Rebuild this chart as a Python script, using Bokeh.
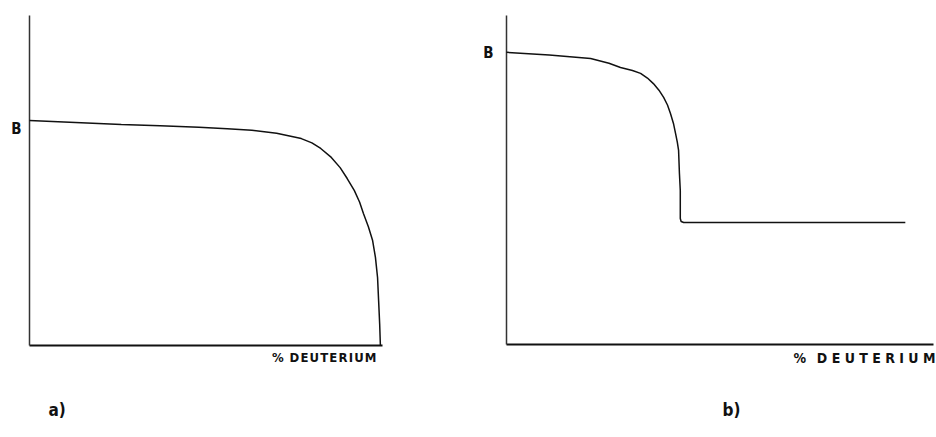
from bokeh.plotting import figure
from bokeh.layouts import row
from bokeh.models import Range1d, Label
from bokeh.embed import file_html
from bokeh.resources import INLINE

# Panel a): B versus % deuterium, gradual fall then sharp drop to zero
deut_a = [0, 13, 26, 37, 48, 56, 63, 70, 77, 80, 82.5, 85.5, 88, 90, 92, 93.5,
          94.6, 96, 97.2, 98, 98.6, 98.9, 99.2, 99.4]
b_a = [68.2, 67.6, 67.0, 66.6, 66.1, 65.7, 65.2, 64.3, 62.7, 61.4, 59.7, 57.0,
       53.9, 50.6, 47.0, 43.5, 40.0, 36.0, 31.8, 26.7, 20.6, 13.6, 6.5, 0]

# Panel b): B versus % deuterium, drop to a constant plateau
deut_b = [0, 10, 19.7, 24, 26.7, 29.5, 31.4, 33, 34.4, 35.7, 36.8, 37.7, 38.4,
          39.1, 39.6, 40.0, 40.3, 40.5, 40.7, 40.7, 40.9, 41.5, 93.4]
b_b = [88.8, 88.0, 86.9, 85.5, 84.2, 83.3, 82.4, 81.0, 79.3, 77.3, 75.1, 72.8,
       70.2, 67.2, 64.1, 61.5, 59.0, 52.0, 46.8, 38.3, 37.4, 37.1, 37.1]

# axis extent in data units (both quantities drawn on a 0-100 scale)
axis_min, axis_max = 0, 100

x_title_a = "%\u2002D\u200aE\u200aU\u200aT\u200aE\u200aR\u200aI\u200aU\u200aM"
x_title_b = "%\u2002 D E U T E R I U M"
y_title = "B"
panel_tags = ["a)", "b)"]

FONT = "'DejaVu Sans Condensed', 'Liberation Sans Narrow', 'DejaVu Sans', sans-serif"
H = 437
INK = "#111111"


def make_panel(width, origin_x, origin_y, px_per_x, px_per_y, xs, ys):
    """Figure whose frame fills the canvas; the data origin sits at
    (origin_x, origin_y) canvas pixels, measured from the top-left."""
    x_range = Range1d(-origin_x / px_per_x, (width - origin_x) / px_per_x)
    y_range = Range1d(-(H - origin_y) / px_per_y, origin_y / px_per_y)
    p = figure(width=width, height=H, output_backend="svg", toolbar_location=None,
               x_range=x_range, y_range=y_range,
               x_axis_location=None, y_axis_location=None,
               min_border=0)
    p.outline_line_color = None
    p.xgrid.visible = False
    p.ygrid.visible = False
    p.background_fill_color = "white"
    p.border_fill_color = "white"
    # axes
    p.line([axis_min, axis_max], [axis_min, axis_min], line_color=INK, line_width=2)
    p.line([axis_min, axis_min], [axis_min, axis_max], line_color="#333333", line_width=1.5)
    # curve
    p.line(xs, ys, line_color=INK, line_width=1.5)
    return p


def add_text(p, x, y_top, text, size, align="left", baseline="top"):
    p.add_layout(Label(x=x, y=H - y_top, x_units="screen", y_units="screen",
                       text=text, text_font=FONT, text_font_style="bold",
                       text_font_size=size, text_color=INK,
                       text_align=align, text_baseline=baseline))


pa = make_panel(460, 29, 345, 3.53, 3.3, deut_a, b_a)
pb = make_panel(476, 46, 344, 4.27, 3.29, deut_b, b_b)

add_text(pa, 21, 128, y_title, "15px", align="right", baseline="middle")
add_text(pa, 376, 349, x_title_a, "13px", align="right")
add_text(pa, 48, 399, panel_tags[0], "17px")

add_text(pb, 33, 52, y_title, "15px", align="right", baseline="middle")
add_text(pb, 475, 349, x_title_b, "14px", align="right")
add_text(pb, 262, 399, panel_tags[1], "17px")

layout = row(pa, pb)
open("out.html", "w").write(file_html(layout, INLINE))
